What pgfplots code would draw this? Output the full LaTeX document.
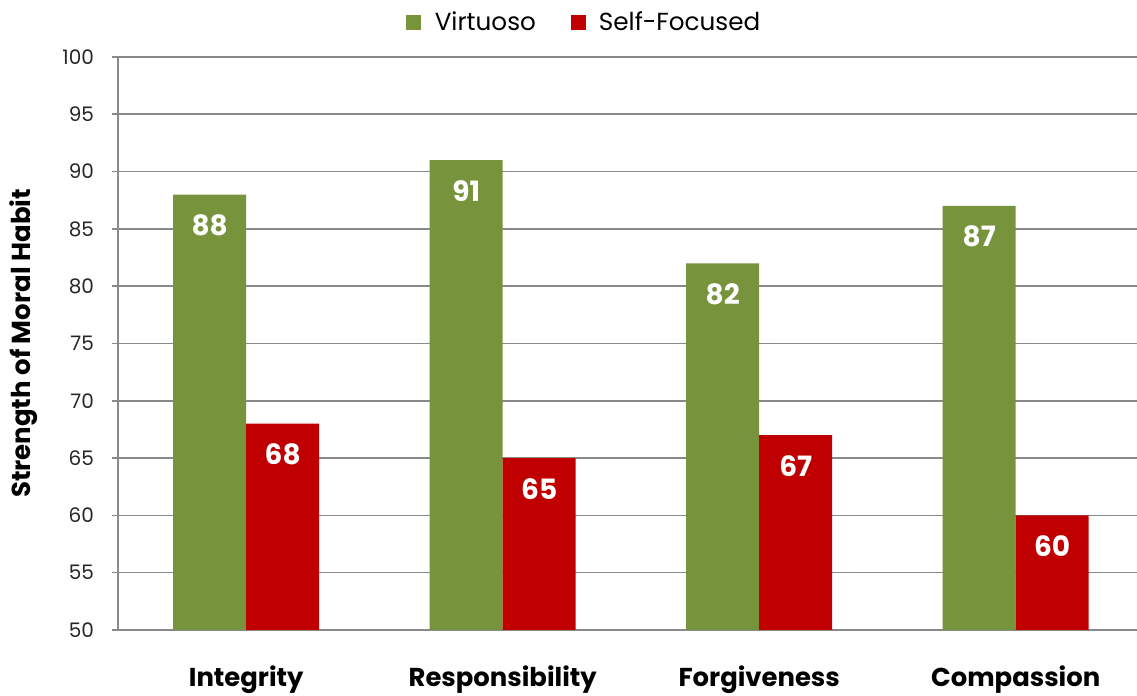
\documentclass[border=0pt]{standalone}
\usepackage{pgfplots}
\pgfplotsset{compat=1.18}
\usepackage{fontspec}
\setmainfont{Poppins}
\definecolor{vgreen}{HTML}{77933C}
\definecolor{sred}{HTML}{C00000}
\definecolor{gridgray}{HTML}{898989}
\begin{document}
\begin{tikzpicture}
\begin{axis}[
  scale only axis,
  width=764.25pt, height=429.75pt,
  ybar, bar width=54.75pt,
  xmin=-0.5, xmax=3.473,
  ymin=50, ymax=100,
  ytick={50,55,...,100},
  xtick={0,1,2,3},
  xticklabels={Integrity,Responsibility,Forgiveness,Compassion},
  axis x line*=bottom, axis y line*=left,
  axis line style={gridgray, line width=1.2pt},
  ymajorgrids,
  grid style={gridgray, line width=1.2pt},
  major x tick style={draw=none},
  major y tick style={gridgray, line width=1.2pt},
  ytick pos=left,
  tick align=outside,
  major tick length=4.5pt,
  /pgf/number format/assume math mode=true,
  yticklabel style={font=\fontsize{15pt}{18pt}\selectfont, color=black!85, anchor=east, xshift=-10pt},
  xticklabel style={font=\fontsize{19.4pt}{23pt}\selectfont\bfseries, anchor=base, yshift=-38pt},
  ylabel={Strength of Moral Habit},
  ylabel style={font=\fontsize{19.5pt}{23pt}\selectfont\bfseries, at={(axis description cs:-0.093,0.5)}, anchor=center, rotate=0},
  nodes near coords,
  nodes near coords style={font=\fontsize{21pt}{24pt}\selectfont\bfseries, color=white, anchor=center, yshift=-23pt},
  legend columns=2,
  legend style={draw=none, at={(0.458,1)}, anchor=south, yshift=14pt,
    font=\fontsize{18.5pt}{22pt}\selectfont, column sep=8pt,
    /tikz/every even column/.append style={column sep=24pt}},
  legend image code/.code={\fill[#1] (0pt,-5.6pt) rectangle (11.25pt,5.6pt);},
]
\addplot[fill=vgreen, draw=none, bar shift=-27.375pt] coordinates {(0,88) (1,91) (2,82) (3,87)};
\addplot[fill=sred, draw=none, bar shift=27.375pt] coordinates {(0,68) (1,65) (2,67) (3,60)};
\legend{Virtuoso, Self-Focused}
\end{axis}
\path (current axis.south west) ++(-88.5pt,-49.5pt) coordinate (A);
\path (current axis.north east) ++(0pt,42.75pt) coordinate (B);
\pgfresetboundingbox
\path[use as bounding box] (A) rectangle (B);
\end{tikzpicture}
\end{document}
